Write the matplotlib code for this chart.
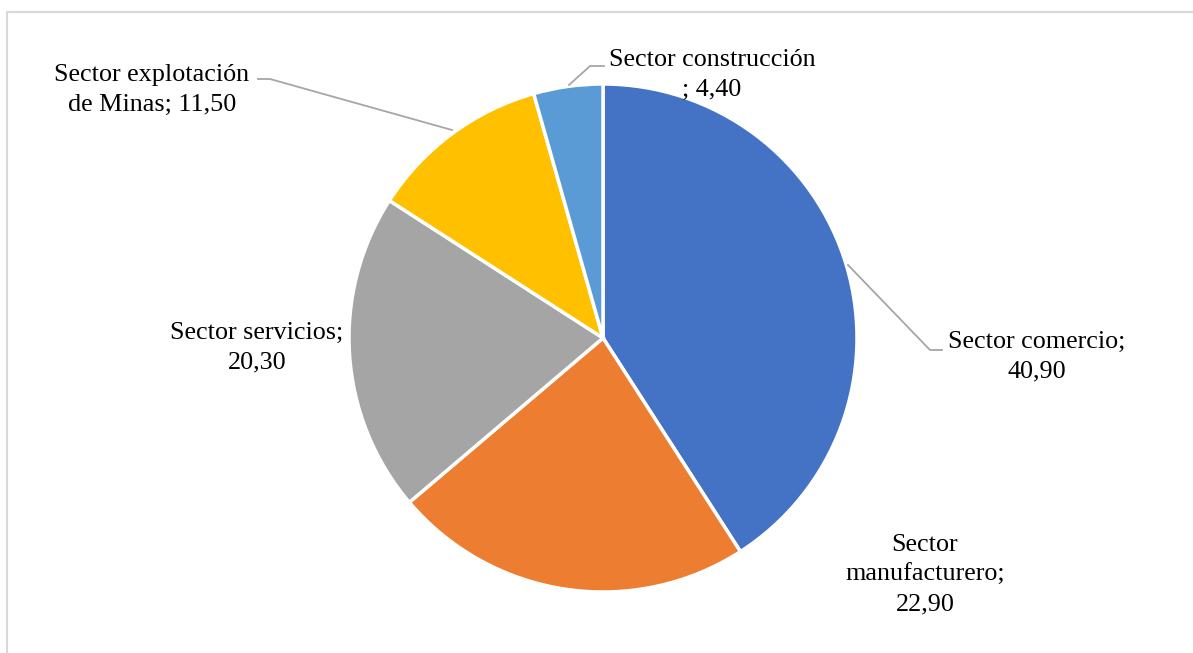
import matplotlib.pyplot as plt
from matplotlib.patches import Rectangle

# data
sectors = ["Sector comercio", "Sector manufacturero", "Sector servicios",
           "Sector explotación de Minas", "Sector construcción"]
values = [40.90, 22.90, 20.30, 11.50, 4.40]
label_texts = ["Sector comercio;\n40,90", "Sector\nmanufacturero;\n22,90",
               "Sector servicios;\n20,30", "Sector explotación\nde Minas; 11,50",
               "Sector construcción\n; 4,40"]
colors = ["#4472C4", "#ED7D31", "#A5A5A5", "#FFC000", "#5B9BD5"]

W, H = 1193, 653
plt.rcParams["font.family"] = ["Liberation Serif", "DejaVu Serif"]

fig = plt.figure(figsize=(W / 100, H / 100), dpi=100)
ax = fig.add_axes([0, 0, 1, 1])


def px(x, y):
    # pixel position (top-left origin) -> data coords
    return x, H - y


# chart frame (cut off at right and bottom in the reference)
fig.patches.append(Rectangle((7 / W, -0.1), 1.2, 1 - 12 / H + 0.1, transform=fig.transFigure,
                             fill=False, edgecolor="#D9D9D9", linewidth=1.5))

cx, cy, r = 603, 338, 254
ax.pie(values, colors=colors, startangle=90, counterclock=False,
       center=px(cx, cy), radius=r, frame=True,
       wedgeprops=dict(edgecolor="white", linewidth=2.5))
ax.set_xlim(0, W)
ax.set_ylim(0, H)
ax.axis("off")

# label layout: text centre and leader line points (pixels)
label_pos = [(1037, 357), (925, 575), (257, 348), (152, 90), (712, 75)]
leaders = [[(848, 265), (930, 350), (942, 350)],
           None,
           None,
           [(258, 79), (270, 79), (452, 130)],
           [(604, 66), (590, 66), (569, 85)]]

for txt, pos, pts in zip(label_texts, label_pos, leaders):
    ax.text(*px(*pos), txt, ha="center", va="center", fontsize=18.8, color="#000000",
            linespacing=1.46)
    if pts:
        xy = [px(*p) for p in pts]
        ax.plot([p[0] for p in xy], [p[1] for p in xy], color="#A6A6A6", linewidth=1.3)

fig.savefig("out.png", dpi=100, facecolor="white")
